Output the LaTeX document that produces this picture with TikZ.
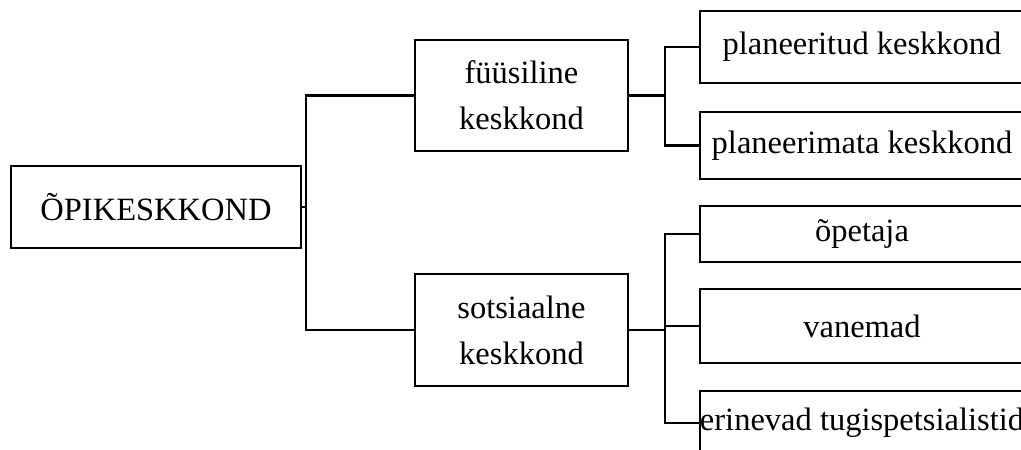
\documentclass[tikz,border=0pt]{standalone}
\usepackage{fontspec}
\setmainfont{Liberation Serif}
\usepackage{tikz}

\tikzset{
  box/.style={draw, line width=2.5pt, rectangle, inner sep=0pt, align=center,
    font=\fontsize{32.5}{46}\selectfont},
  link/.style={line width=2.2pt}
}

\begin{document}
\begin{tikzpicture}[x=1pt, y=-1pt]
  \useasboundingbox (0,0) rectangle (1021,450);
  \clip (0,0) rectangle (1021,450);
  % Tase 1
  \node[box, minimum width=290pt, minimum height=82pt] (root) at (156,207) {ÕPIKESKKOND};
  % Tase 2
  \node[box, minimum width=213pt, minimum height=111pt] (fys) at (521.5,95.5) {füüsiline\\keskkond};
  \node[box, minimum width=213pt, minimum height=112pt] (sots) at (521.5,330) {sotsiaalne\\keskkond};
  % Tase 3
  \node[box, minimum width=324pt, minimum height=72pt] (plan) at (862,47) {planeeritud keskkond};
  \node[box, minimum width=324pt, minimum height=67pt] (mitteplan) at (862,145.5) {planeerimata keskkond};
  \node[box, minimum width=324pt, minimum height=56pt] (opetaja) at (862,234) {õpetaja};
  \node[box, minimum width=324pt, minimum height=74pt] (vanemad) at (862,326) {vanemad};
  \node[box, minimum width=324pt, minimum height=64pt] (tugi) at (862,423) {erinevad tugispetsialistid};
  % Ühendused
  \draw[link] (root.east) -- ++(4,0) |- (fys.west);
  \draw[link] (root.east) -- ++(4,0) |- (sots.west);
  \draw[link] (fys.east) -- ++(36,0) |- (plan.west);
  \draw[link] (fys.east) -- ++(36,0) |- (mitteplan.west);
  \draw[link] (sots.east) -- ++(36,0) |- (opetaja.west);
  \draw[link] (sots.east) -- ++(36,0) |- (vanemad.west);
  \draw[link] (sots.east) -- ++(36,0) |- (tugi.west);
\end{tikzpicture}
\end{document}
